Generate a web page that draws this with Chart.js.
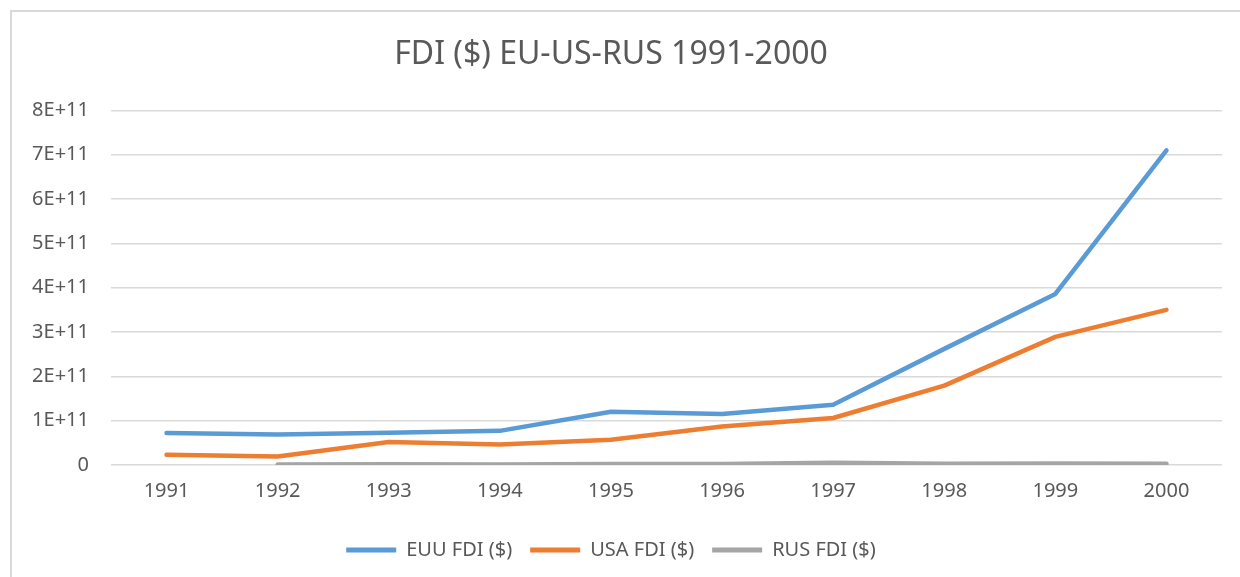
<!DOCTYPE html>
<html>
<head>
<meta charset="utf-8">
<script src="https://cdn.jsdelivr.net/npm/chart.js@4"></script>
<style>
  html, body { margin: 0; padding: 0; background: #fff; overflow: hidden; }
  #frame {
    position: absolute; left: 10px; top: 10px;
    width: 1300px; height: 640px;
    border: 2px solid #d9d9d9;
  }
  #wrap { position: absolute; left: 0; top: 0; width: 1240px; height: 577px; }
</style>
</head>
<body>
<div id="frame"></div>
<div id="wrap"><canvas id="fdiChart"></canvas></div>
<script>
// Data
const years = ['1991', '1992', '1993', '1994', '1995', '1996', '1997', '1998', '1999', '2000'];
const euuFdi = [0.72e11, 0.69e11, 0.73e11, 0.77e11, 1.20e11, 1.15e11, 1.36e11, 2.62e11, 3.86e11, 7.10e11];
const usaFdi = [0.23e11, 0.19e11, 0.52e11, 0.46e11, 0.57e11, 0.87e11, 1.06e11, 1.79e11, 2.89e11, 3.50e11];
const rusFdi = [null, 0.012e11, 0.015e11, 0.010e11, 0.020e11, 0.025e11, 0.05e11, 0.03e11, 0.033e11, 0.027e11];
const yTickLabels = ['0', '1E+11', '2E+11', '3E+11', '4E+11', '5E+11', '6E+11', '7E+11', '8E+11'];

const textColor = '#595959';
const fontFamily = '"Noto Sans", "Open Sans", sans-serif';

function series(label, data, color) {
    return {
        label: label,
        data: data,
        borderColor: color,
        backgroundColor: color,
        borderWidth: 4.5,
        pointRadius: 0,
        borderCapStyle: 'round',
        borderJoinStyle: 'round',
        tension: 0,
        spanGaps: false
    };
}

const ctx = document.getElementById('fdiChart').getContext('2d');
new Chart(ctx, {
    type: 'line',
    data: {
        labels: years,
        datasets: [
            series('EUU FDI ($)', euuFdi, '#5b9bd5'),
            series('USA FDI ($)', usaFdi, '#ed7d31'),
            series('RUS FDI ($)', rusFdi, '#a5a5a5')
        ]
    },
    options: {
        responsive: true,
        maintainAspectRatio: false,
        animation: false,
        layout: { padding: { left: 0, right: 18, top: 28, bottom: 7 } },
        plugins: {
            title: {
                display: true,
                text: 'FDI ($) EU-US-RUS 1991-2000',
                color: textColor,
                font: { family: fontFamily, size: 32, weight: 'normal' },
                padding: { top: 8, bottom: 36 }
            },
            legend: {
                position: 'bottom',
                labels: {
                    color: textColor,
                    font: { family: fontFamily, size: 20 },
                    boxWidth: 50,
                    boxHeight: 5,
                    padding: 18,
                    generateLabels: function(chart) {
                        return chart.data.datasets.map((ds, i) => ({
                            text: ds.label,
                            fillStyle: ds.borderColor,
                            strokeStyle: ds.borderColor,
                            lineWidth: 0,
                            fontColor: textColor,
                            datasetIndex: i
                        }));
                    }
                }
            },
            tooltip: { enabled: false }
        },
        scales: {
            x: {
                offset: true,
                grid: { display: false, drawTicks: false },
                border: { display: false },
                ticks: {
                    color: textColor,
                    font: { family: fontFamily, size: 20 },
                    padding: 14
                },
                afterFit: function(scale) { scale.height = 57; }
            },
            y: {
                min: 0,
                max: 8e11,
                grid: { color: '#d9d9d9', lineWidth: 1.5, drawTicks: false },
                border: { display: false },
                ticks: {
                    stepSize: 1e11,
                    color: textColor,
                    font: { family: fontFamily, size: 20 },
                    padding: 22,
                    callback: function(value) {
                        return yTickLabels[Math.round(value / 1e11)];
                    }
                },
                afterFit: function(scale) { scale.width = 111; }
            }
        }
    }
});
</script>
</body>
</html>
